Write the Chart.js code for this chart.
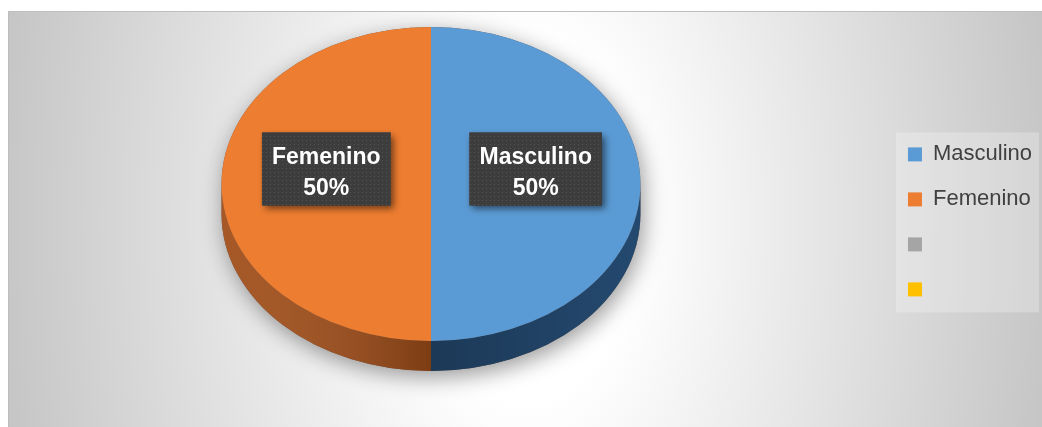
<!DOCTYPE html>
<html>
<head>
<meta charset="utf-8">
<script src="https://cdn.jsdelivr.net/npm/chart.js@4.4.1/dist/chart.umd.min.js"></script>
<style>
  html, body { margin: 0; padding: 0; background: #fff; }
  body { width: 1042px; height: 427px; position: relative; overflow: hidden; }
  #bg {
    position: absolute; left: 8px; top: 11px; width: 1040px; height: 420px;
    border-top: 1px solid #bdbdbd; border-left: 1px solid #bdbdbd;
    background: radial-gradient(ellipse 540px 900px at 517px 208px, #ffffff 0%, #ffffff 20%, #c4c4c4 100%);
  }
  /* canvas reaches a bit past the left edge so the pie sits where the original one does */
  #wrap { position: absolute; left: -23px; top: 11px; width: 1065px; height: 416px; }
</style>
</head>
<body>
<div id="bg"></div>
<div id="wrap"><canvas id="myChart"></canvas></div>
<script>
const CATEGORIES = ['Masculino', 'Femenino', '', ''];
const VALUES = [50, 50, 0, 0];
const COLORS = ['#5b9bd5', '#ed7d31', '#a5a5a5', '#ffc000'];
const SIDE_COLORS = ['#24496f', '#a04d18', '#5c5c5c', '#8c6b00'];

const ASPECT = 1.334; // horizontal stretch of the tilted disc
const DEPTH = 30;     // thickness of the pie
const LABEL_LIFT = 15;

// little dotted texture for the data label boxes
function makeDots(ctx) {
  const c = document.createElement('canvas');
  c.width = 4; c.height = 4;
  const g = c.getContext('2d');
  g.fillStyle = '#3d3d3d';
  g.fillRect(0, 0, 4, 4);
  g.fillStyle = '#535353';
  g.fillRect(1, 1, 1, 1);
  return ctx.createPattern(c, 'repeat');
}

const LEGEND_BACK = {
  id: 'legendBack',
  beforeDraw(chart) {
    const boxes = chart.legend.legendHitBoxes;
    if (!boxes || !boxes.length) return;
    const { ctx } = chart;
    const left = Math.min(...boxes.map(b => b.left)) - 12;
    const top = boxes[0].top - 11;
    const bottom = boxes[boxes.length - 1].top + boxes[boxes.length - 1].height + 12;
    const right = chart.width - 3;
    ctx.save();
    ctx.fillStyle = 'rgba(255,255,255,0.25)';
    ctx.fillRect(left, top, right - left, bottom - top);
    ctx.restore();
  }
};

const PIE_3D = {
  id: 'pie3d',
  beforeDatasetsDraw(chart) {
    const { ctx } = chart;
    const arcs = chart.getDatasetMeta(0).data;
    if (!arcs.length) return;
    const { x: cx, y: cy, outerRadius: r } = arcs[0].getProps(['x', 'y', 'outerRadius'], true);

    ctx.save();
    ctx.translate(cx, cy);
    ctx.scale(ASPECT, 1);

    // silhouette with soft shadow
    ctx.save();
    ctx.shadowColor = 'rgba(0,0,0,0.4)';
    ctx.shadowBlur = 22;
    ctx.shadowOffsetX = 3;
    ctx.shadowOffsetY = 6;
    ctx.beginPath();
    ctx.arc(0, 0, r, Math.PI, Math.PI * 2);
    ctx.arc(0, DEPTH, r, 0, Math.PI);
    ctx.closePath();
    ctx.fillStyle = '#6a5a50';
    ctx.fill();
    ctx.restore();

    // side walls, only the front half (0..PI) is visible
    arcs.forEach((arc, i) => {
      const { startAngle, endAngle } = arc.getProps(['startAngle', 'endAngle'], true);
      for (let k = -1; k <= 1; k++) {
        const from = Math.max(startAngle, 2 * Math.PI * k);
        const to = Math.min(endAngle, 2 * Math.PI * k + Math.PI);
        if (to <= from) continue;
        ctx.beginPath();
        ctx.arc(0, 0, r, from, to);
        ctx.arc(0, DEPTH, r, to, from, true);
        ctx.closePath();
        ctx.fillStyle = SIDE_COLORS[i];
        ctx.fill();
      }
    });
    // shading on the wall, darker towards the middle
    const grad = ctx.createLinearGradient(-r, 0, r, 0);
    grad.addColorStop(0, 'rgba(255,255,255,0.06)');
    grad.addColorStop(0.5, 'rgba(0,0,0,0.22)');
    grad.addColorStop(1, 'rgba(0,0,0,0.0)');
    ctx.beginPath();
    ctx.arc(0, 0, r, 0, Math.PI);
    ctx.arc(0, DEPTH, r, Math.PI, 0, true);
    ctx.closePath();
    ctx.fillStyle = grad;
    ctx.fill();
    ctx.restore();

    // top face gets drawn by chart.js, squeezed into an ellipse
    ctx.save();
    ctx.translate(cx, cy);
    ctx.scale(ASPECT, 1);
    ctx.translate(-cx, -cy);
  },
  afterDatasetsDraw(chart) {
    const { ctx } = chart;
    ctx.restore();

    const arcs = chart.getDatasetMeta(0).data;
    const data = chart.data.datasets[0].data;
    const total = data.reduce((a, b) => a + b, 0);
    const dots = makeDots(ctx);
    arcs.forEach((arc, i) => {
      if (!data[i]) return;
      const { x: cx } = arc.getProps(['x'], true);
      const pos = arc.tooltipPosition(true);
      const px = cx + (pos.x - cx) * ASPECT;
      const py = pos.y - LABEL_LIFT;
      const line1 = chart.data.labels[i];
      const line2 = Math.round(data[i] / total * 100) + '%';
      ctx.font = 'bold 23px "Liberation Sans", Arial, sans-serif';
      const w = Math.max(ctx.measureText(line1).width, ctx.measureText(line2).width) + 20;
      const h = 73;
      ctx.save();
      ctx.shadowColor = 'rgba(0,0,0,0.55)';
      ctx.shadowBlur = 7;
      ctx.shadowOffsetX = 3;
      ctx.shadowOffsetY = 3;
      ctx.fillStyle = '#3d3d3d';
      ctx.fillRect(px - w / 2, py - h / 2, w, h);
      ctx.restore();
      ctx.fillStyle = dots;
      ctx.fillRect(px - w / 2, py - h / 2, w, h);
      ctx.fillStyle = '#ffffff';
      ctx.textAlign = 'center';
      ctx.textBaseline = 'alphabetic';
      ctx.fillText(line1, px, py - 5);
      ctx.fillText(line2, px, py + 26);
    });
  }
};

const CONFIG = {
  type: 'pie',
  data: {
    labels: CATEGORIES,
    datasets: [{
      data: VALUES,
      backgroundColor: COLORS,
      borderWidth: 0
    }]
  },
  options: {
    responsive: true,
    maintainAspectRatio: false,
    animation: false,
    layout: {
      padding: { left: 0, right: 0, top: 16, bottom: 86 }
    },
    plugins: {
      tooltip: { enabled: false },
      legend: {
        position: 'right',
        align: 'start',
        title: {
          display: true,
          text: '',
          padding: { top: 79, bottom: 0 },
          font: { size: 12 }
        },
        labels: {
          boxWidth: 14,
          boxHeight: 14,
          padding: 23,
          color: '#404040',
          font: { family: '"Liberation Sans", Arial, sans-serif', size: 22 }
        }
      }
    }
  },
  plugins: [LEGEND_BACK, PIE_3D]
};

const MY_CHART = new Chart(document.getElementById('myChart'), CONFIG);
</script>
</body>
</html>
